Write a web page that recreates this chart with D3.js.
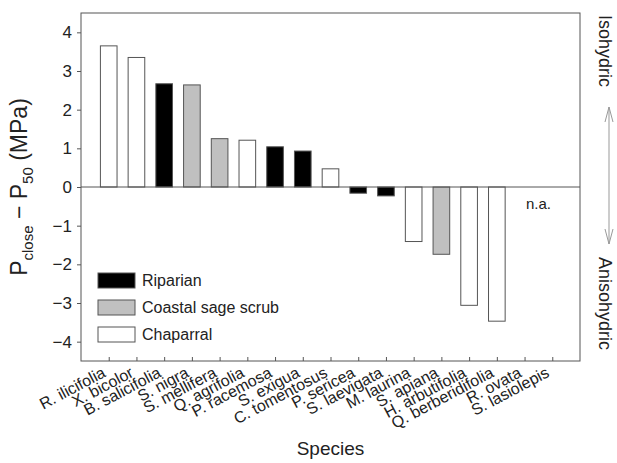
<!DOCTYPE html>
<html>
<head>
<meta charset="utf-8">
<script src="https://cdn.jsdelivr.net/npm/d3@7"></script>
<style>
  body { margin: 0; background: #fff; }
  text { font-family: Arial, "Liberation Sans", sans-serif; fill: #222; }
</style>
</head>
<body>
<div id="chart"></div>
<script>
const species = ["R. ilicifolia", "X. bicolor", "B. salicifolia", "S. nigra", "S. mellifera",
  "Q. agrifolia", "P. racemosa", "S. exigua", "C. tomentosus", "P. sericea", "S. laevigata",
  "M. laurina", "S. apiana", "H. arbutifolia", "Q. berberidifolia", "R. ovata", "S. lasiolepis"];
const values = [3.65, 3.35, 2.67, 2.64, 1.25, 1.21, 1.04, 0.93, 0.47, -0.16, -0.23,
  -1.41, -1.74, -3.06, -3.47, null, null];
const habitat = ["Chaparral", "Chaparral", "Riparian", "Coastal sage scrub", "Coastal sage scrub",
  "Chaparral", "Riparian", "Riparian", "Chaparral", "Riparian", "Riparian",
  "Chaparral", "Coastal sage scrub", "Chaparral", "Chaparral", null, null];
const habitats = ["Riparian", "Coastal sage scrub", "Chaparral"];
const yTicks = [-4, -3, -2, -1, 0, 1, 2, 3, 4];

const W = 617, H = 463;
const margin = {top: 13, right: 37, bottom: 102, left: 81};
const width = W - margin.left - margin.right,
      height = H - margin.top - margin.bottom;

const svg = d3.select("#chart").append("svg")
    .attr("width", W).attr("height", H);
const g = svg.append("g")
    .attr("transform", "translate(" + margin.left + "," + margin.top + ")");

const x = d3.scalePoint().domain(species).range([0, width]).padding(1);
const y = d3.scaleLinear().domain([-4.5, 4.5]).range([height, 0]);
const color = d3.scaleOrdinal().domain(habitats).range(["#000000", "#c0c0c0", "#ffffff"]);
const barW = x.step() * 0.6;

const data = species.map((s, i) => ({name: s, value: values[i], habitat: habitat[i]}));

// bars
g.selectAll(".bar")
    .data(data.filter(d => d.value !== null))
  .enter().append("rect")
    .attr("class", "bar")
    .attr("x", d => x(d.name) - barW / 2)
    .attr("width", barW)
    .attr("y", d => y(Math.max(0, d.value)))
    .attr("height", d => Math.abs(y(d.value) - y(0)))
    .attr("fill", d => color(d.habitat))
    .attr("stroke", "#555")
    .attr("stroke-width", 1);

// zero line
g.append("line")
    .attr("x1", 0).attr("x2", width)
    .attr("y1", y(0)).attr("y2", y(0))
    .attr("stroke", "#555").attr("stroke-width", 1);

// n.a.
const naNames = data.filter(d => d.value === null).map(d => d.name);
g.append("text")
    .attr("x", d3.mean(naNames, n => x(n)))
    .attr("y", y(0) + 22)
    .attr("text-anchor", "middle")
    .style("font-size", "15px")
    .text("n.a.");

// frame
g.append("rect")
    .attr("width", width).attr("height", height)
    .attr("fill", "none").attr("stroke", "#555").attr("stroke-width", 1);

// y axis
const yAxis = g.append("g")
    .call(d3.axisLeft(y).tickValues(yTicks).tickSize(4).tickPadding(5)
      .tickFormat(d => d < 0 ? "\u2212" + Math.abs(d) : d));
yAxis.select(".domain").remove();
yAxis.selectAll("line").attr("stroke", "#555");
yAxis.selectAll("text").style("font-size", "17px").style("fill", "#222")
    .style("font-family", "Arial, 'Liberation Sans', sans-serif");

// x axis
const xAxis = g.append("g")
    .attr("transform", "translate(0," + height + ")")
    .call(d3.axisBottom(x).tickSize(-4).tickFormat(""));
xAxis.select(".domain").remove();
xAxis.selectAll("line").attr("stroke", "#555");

g.selectAll(".xlabel")
    .data(species)
  .enter().append("text")
    .attr("class", "xlabel")
    .attr("transform", d => "translate(" + (x(d) - 2) + "," + (height + 15) + ") rotate(-28)")
    .attr("text-anchor", "end")
    .style("font-size", "16px")
    .text(d => d);

// axis titles
svg.append("text")
    .attr("x", margin.left + width / 2)
    .attr("y", 455)
    .attr("text-anchor", "middle")
    .style("font-size", "19px")
    .text("Species");

const yt = svg.append("text")
    .attr("transform", "translate(27," + (margin.top + height / 2) + ") rotate(-90)")
    .attr("text-anchor", "middle")
    .style("font-size", "23px");
yt.append("tspan").text("P");
yt.append("tspan").attr("dy", 6).style("font-size", "15px").text("close");
yt.append("tspan").attr("dy", -6).text(" \u2212 P");
yt.append("tspan").attr("dy", 6).style("font-size", "15px").text("50");
yt.append("tspan").attr("dy", -6).text(" (MPa)");

// legend
const legend = g.selectAll(".legend")
    .data(habitats)
  .enter().append("g")
    .attr("class", "legend")
    .attr("transform", (d, i) => "translate(17," + (260 + i * 27) + ")");
legend.append("rect")
    .attr("width", 37).attr("height", 15)
    .attr("fill", d => color(d))
    .attr("stroke", "#555");
legend.append("text")
    .attr("x", 44).attr("y", 13)
    .style("font-size", "16px")
    .text(d => d);

// right side annotation
svg.append("text")
    .attr("transform", "translate(599,15) rotate(90)")
    .style("font-size", "18px")
    .text("Isohydric");
svg.append("text")
    .attr("transform", "translate(599,257) rotate(90)")
    .style("font-size", "18px")
    .text("Anisohydric");

const ax = 609, aTop = 107, aBot = 244;
svg.append("line")
    .attr("x1", ax).attr("x2", ax).attr("y1", aTop).attr("y2", aBot)
    .attr("stroke", "#999").attr("stroke-width", 1);
svg.append("path")
    .attr("d", "M" + (ax - 4) + "," + (aTop + 15) + "L" + ax + "," + aTop + "L" + (ax + 4) + "," + (aTop + 15))
    .attr("fill", "none").attr("stroke", "#999");
svg.append("path")
    .attr("d", "M" + (ax - 4) + "," + (aBot - 15) + "L" + ax + "," + aBot + "L" + (ax + 4) + "," + (aBot - 15))
    .attr("fill", "none").attr("stroke", "#999");
</script>
</body>
</html>
